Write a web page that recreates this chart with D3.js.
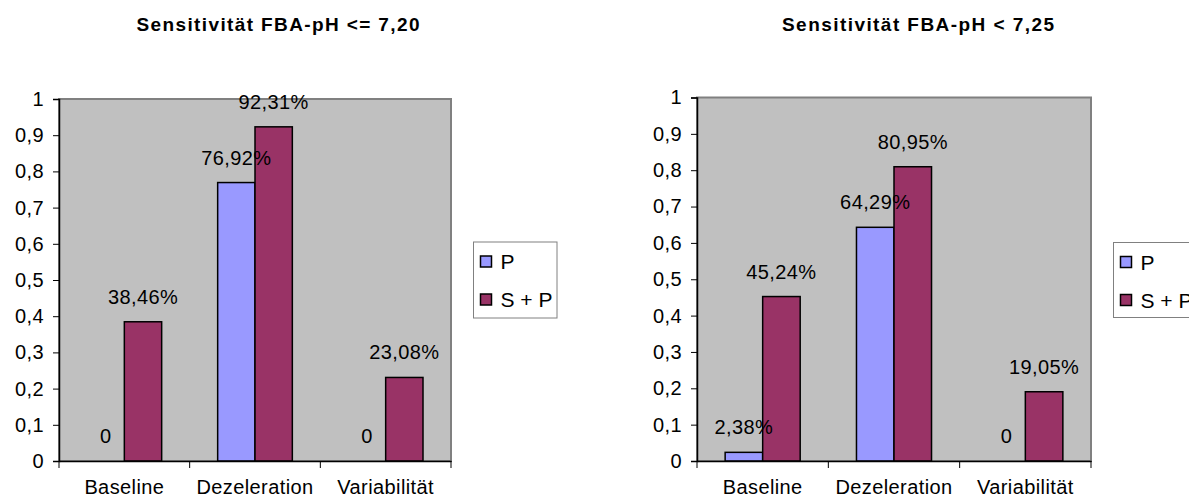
<!DOCTYPE html>
<html>
<head>
<meta charset="utf-8">
<script src="https://cdn.jsdelivr.net/npm/d3@7"></script>
<style>
  html, body { margin: 0; padding: 0; background: #ffffff; }
  svg { display: block; }
  text { font-family: "Liberation Sans", Arial, sans-serif; fill: #000; }
</style>
</head>
<body>
<svg id="chart" width="1189" height="501"></svg>
<script>
// Sensitivity of the CTG criteria for two FBA-pH thresholds
const categories = ["Baseline", "Dezeleration", "Variabilität"];
const seriesNames = ["P", "S + P"];
const seriesColors = ["#9999FF", "#993366"];

const titleA = "Sensitivität FBA-pH <= 7,20";
const valuesA_P = [0, 0.7692, 0];
const valuesA_SP = [0.3846, 0.9231, 0.2308];

const titleB = "Sensitivität FBA-pH < 7,25";
const valuesB_P = [0.0238, 0.6429, 0];
const valuesB_SP = [0.4524, 0.8095, 0.1905];

const yTickValues = [0, 0.1, 0.2, 0.3, 0.4, 0.5, 0.6, 0.7, 0.8, 0.9, 1];
const yTickLabels = ["0", "0,1", "0,2", "0,3", "0,4", "0,5", "0,6", "0,7", "0,8", "0,9", "1"];

const svg = d3.select("#chart");
const FONT = 20;
const SPACING = 0.4;

function pctLabel(v) {
  if (v === 0) return "0";
  return (v * 100).toFixed(2).replace(".", ",") + "%";
}

function drawChart(cfg) {
  const g = svg.append("g");
  const { x0, x1, y0, y1 } = cfg.plot;

  const x = d3.scaleBand().domain(categories).range([x0, x1]).padding(0);
  const xs = d3.scaleBand().domain(seriesNames).range([0, x.bandwidth()])
    .paddingInner(0).paddingOuter(0.75);
  const y = d3.scaleLinear().domain([0, 1]).range([y0, y1]);

  // plot area
  g.append("rect")
    .attr("x", x0).attr("y", y(1))
    .attr("width", x1 - x0).attr("height", y(0) - y(1))
    .attr("fill", "#C0C0C0")
    .attr("stroke", "#808080").attr("stroke-width", 2);

  // title
  g.append("text")
    .attr("x", cfg.titleX).attr("y", 31)
    .attr("text-anchor", "middle")
    .attr("font-weight", "bold")
    .attr("font-size", 19)
    .attr("textLength", cfg.titleLen)
    .attr("lengthAdjust", "spacing")
    .text(cfg.title);

  // bars
  const rows = categories.map((c, i) => ({
    cat: c,
    vals: [cfg.p[i], cfg.sp[i]]
  }));
  const grp = g.selectAll("g.cat").data(rows).join("g")
    .attr("transform", d => `translate(${x(d.cat)},0)`);

  grp.selectAll("rect.bar")
    .data(d => d.vals.map((v, j) => ({ v, s: seriesNames[j], j })))
    .join("rect")
    .attr("x", d => xs(d.s))
    .attr("width", xs.bandwidth())
    .attr("y", d => y(d.v))
    .attr("height", d => y(0) - y(d.v))
    .attr("fill", d => seriesColors[d.j])
    .attr("stroke", "#000")
    .attr("stroke-width", d => d.v > 0 ? 1.5 : 0);

  grp.selectAll("text.lbl")
    .data(d => d.vals.map((v, j) => ({ v, s: seriesNames[j] })))
    .join("text")
    .attr("x", d => xs(d.s) + xs.bandwidth() / 2)
    .attr("y", d => y(d.v) - 18)
    .attr("text-anchor", "middle")
    .attr("font-size", FONT)
    .attr("letter-spacing", SPACING)
    .text(d => pctLabel(d.v));

  // y axis
  const yAxis = d3.axisLeft(y)
    .tickValues(yTickValues)
    .tickFormat((d, i) => yTickLabels[i])
    .tickSize(6).tickPadding(9);
  const ya = g.append("g").attr("transform", `translate(${x0},0)`).call(yAxis);
  ya.select(".domain").attr("stroke", "#000").attr("stroke-width", 1.5);
  ya.selectAll(".tick line").attr("stroke", "#000");
  ya.selectAll(".tick text")
    .attr("font-size", FONT).attr("font-family", null).attr("fill", "#000")
    .attr("letter-spacing", SPACING);

  // x axis
  const xAxis = d3.axisBottom(x).tickSize(0).tickPadding(19);
  const xa = g.append("g").attr("transform", `translate(0,${y0})`).call(xAxis);
  xa.select(".domain").attr("stroke", "#000").attr("stroke-width", 1.5);
  xa.selectAll(".tick text")
    .attr("font-size", FONT).attr("font-family", null).attr("fill", "#000")
    .attr("letter-spacing", SPACING);
  // category separators
  const seps = [x0].concat(categories.map(c => x(c) + x.bandwidth()));
  g.selectAll("line.sep").data(seps).join("line")
    .attr("x1", d => d).attr("x2", d => d)
    .attr("y1", y0).attr("y2", y0 + 7)
    .attr("stroke", "#000");

  // legend
  const L = cfg.legend;
  const lg = g.append("g");
  lg.append("rect")
    .attr("x", L.x).attr("y", L.y).attr("width", L.w).attr("height", L.h)
    .attr("fill", "#fff").attr("stroke", "#808080").attr("stroke-width", 1);
  seriesNames.forEach((s, i) => {
    const cy = L.y + 20 + i * 38;
    lg.append("rect")
      .attr("x", L.x + 7).attr("y", cy - 6).attr("width", 11).attr("height", 11)
      .attr("fill", seriesColors[i]).attr("stroke", "#000").attr("stroke-width", 1.5);
    lg.append("text")
      .attr("x", L.x + 27).attr("y", cy + 7)
      .attr("font-size", 21)
      .text(s);
  });
}

drawChart({
  title: titleA, titleX: 278, titleLen: 283,
  p: valuesA_P, sp: valuesA_SP,
  plot: { x0: 59, x1: 451, y0: 461, y1: 99 },
  legend: { x: 473.5, y: 242, w: 83.5, h: 76 }
});

drawChart({
  title: titleB, titleX: 918, titleLen: 272,
  p: valuesB_P, sp: valuesB_SP,
  plot: { x0: 697, x1: 1091, y0: 461, y1: 97.5 },
  legend: { x: 1113.5, y: 242.5, w: 90, h: 75 }
});
</script>
</body>
</html>
